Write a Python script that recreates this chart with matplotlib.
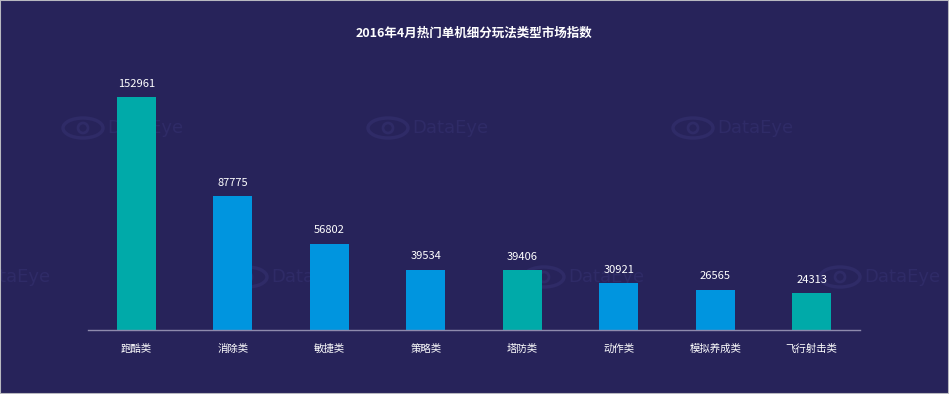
import matplotlib
matplotlib.use('Agg')
import matplotlib.pyplot as plt
from matplotlib.patches import Rectangle, Ellipse, Circle

plt.rcParams['font.family'] = ['Noto Sans CJK SC', 'DejaVu Sans']

categories = ['跑酷类', '消除类', '敏捷类', '策略类', '塔防类', '动作类', '模拟养成类', '飞行射击类']
values = [152961, 87775, 56802, 39534, 39406, 30921, 26565, 24313]
colors = ['#00aaa9', '#0095df', '#0095df', '#0095df', '#00aaa9', '#0095df', '#0095df', '#00aaa9']

bg = '#27235a'
wm = '#2f2b67'
fig = plt.figure(figsize=(9.49, 3.94), dpi=100, facecolor=bg)

# faint watermarks on a full-figure background axes (pixel coords)
bgax = fig.add_axes([0, 0, 1, 1], zorder=0)
bgax.set_xlim(0, 949)
bgax.set_ylim(394, 0)
bgax.axis('off')
marks = [(145, 128), (450, 128), (755, 128), (12, 277), (309, 277), (606, 277), (902, 277)]
for mx, my in marks:
    bgax.text(mx, my, 'DataEye', color=wm, fontsize=13, ha='center', va='center',
              family='DejaVu Sans')
    ex = mx - 62
    bgax.add_patch(Ellipse((ex, my), 40, 20, fill=False, edgecolor=wm, linewidth=2.5))
    bgax.add_patch(Circle((ex, my), 5, fill=False, edgecolor=wm, linewidth=2))

ax = fig.add_axes([88 / 949, 1 - 330 / 394, 772 / 949, 274 / 394], zorder=1)
ax.set_facecolor('none')
x = range(len(categories))
ax.bar(x, values, width=0.4, color=colors, zorder=2)
for i, v in enumerate(values):
    ax.text(i, v + 5500, str(v), ha='center', va='bottom', color='white', fontsize=8)

ax.set_xlim(-0.5, len(categories) - 0.5)
ax.set_ylim(0, 180000)
ax.set_xticks(list(x))
ax.set_xticklabels(categories, color='white', fontsize=7.5)
ax.tick_params(axis='x', length=0, pad=10)
ax.set_yticks([])
for s in ['top', 'right', 'left']:
    ax.spines[s].set_visible(False)
ax.spines['bottom'].set_color('#8e8aad')
ax.spines['bottom'].set_linewidth(1)

fig.text(474 / 949, 1 - 33 / 394, '2016年4月热门单机细分玩法类型市场指数', color='white',
         fontsize=9, fontweight='bold', ha='center', va='center')

# thin frame around image
fig.patches.append(Rectangle((0, 0), 1, 1, transform=fig.transFigure, fill=False,
                             edgecolor='#b8b8c0', linewidth=1.5))

fig.savefig('out.png', dpi=100, facecolor=bg)
